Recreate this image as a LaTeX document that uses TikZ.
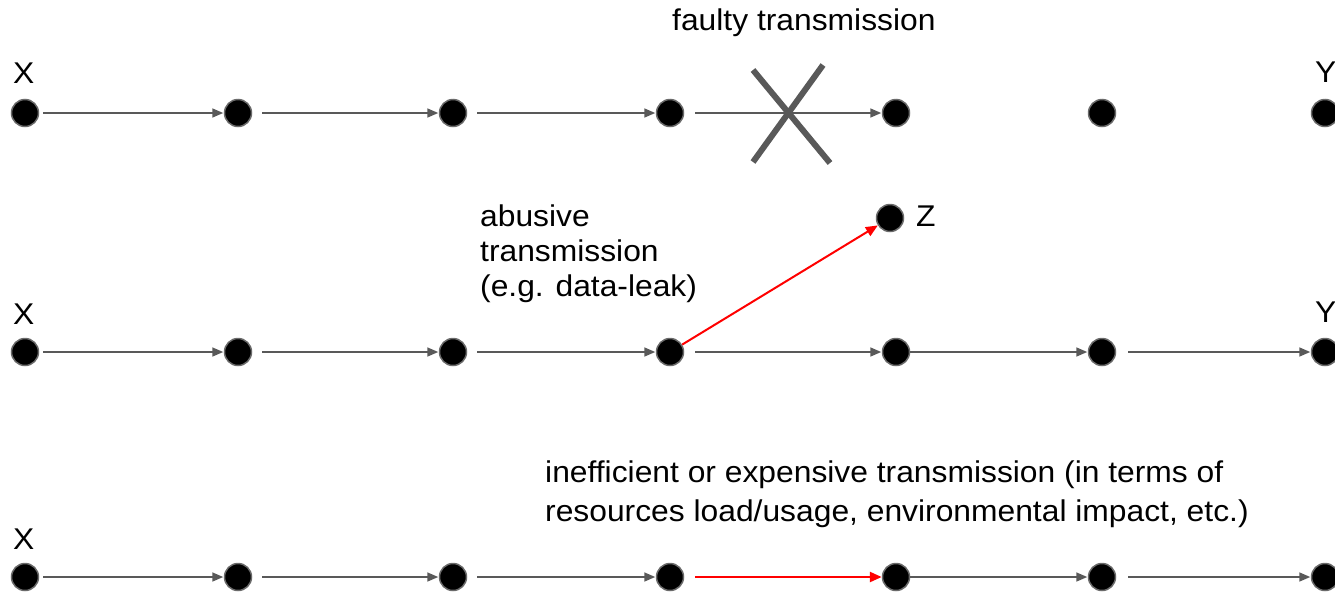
\documentclass[tikz,border=0pt]{standalone}
\usepackage{fontspec}
\setmainfont{Liberation Sans}[FakeStretch=1.06]
\usetikzlibrary{arrows.meta}
\definecolor{edgegray}{HTML}{595959}
\definecolor{rimgray}{HTML}{6A6A6A}
\definecolor{leakred}{HTML}{FF0000}
\tikzset{
  dot/.style={circle, fill=black, draw=rimgray, line width=1.5pt, minimum size=27pt, inner sep=0pt},
  flow/.style={draw=edgegray, line width=1.6pt, -{Triangle[length=11pt,width=9pt]}, shorten <=10pt, shorten >=0.5pt},
  badflow/.style={draw=leakred, line width=2pt, -{Triangle[length=12pt,width=10pt]}},
  lbl/.style={font=\fontsize{30}{35}\selectfont, inner sep=0pt, anchor=base west},
  cross/.style={draw=edgegray, line width=6pt}
}
\begin{document}
\begin{tikzpicture}[x=1pt,y=-1pt]
\useasboundingbox (0,0) rectangle (1335,592);
\foreach \i/\x in {1/25,2/238,3/453,4/670,5/896,6/1102,7/1325}{
  \node[dot] (a\i) at (\x,113) {};
  \node[dot] (b\i) at (\x,352) {};
  \node[dot] (c\i) at (\x,577) {};
}
\node[dot] (z) at (890,218) {};
% labels
\node[lbl] (fx) at (672,30) {faulty transmission};
\node[lbl] (xa) at (13,83) {X};
\node[lbl] (ya) at (1315,82) {Y};
\node[lbl] (xb) at (13,324) {X};
\node[lbl] (yb) at (1315,322) {Y};
\node[lbl] (xc) at (13,549) {X};
\node[lbl] (zl) at (916,226) {Z};
\node[font=\fontsize{30}{35}\selectfont, inner sep=0pt, anchor=north west, align=left] (ab) at (480,205) {abusive\\transmission\\(e.g. data-leak)};
\node[font=\fontsize{30}{39}\selectfont, inner sep=0pt, anchor=north west, align=left] (ineff) at (545,461) {inefficient or expensive transmission (in terms of\\resources load/usage, environmental impact, etc.)};
% row 1 edges
\draw[flow, shorten <=4pt] (a1) -- (a2);
\draw[flow] (a2) -- (a3);
\draw[flow] (a3) -- (a4);
\draw[flow, shorten <=11pt] (a4) -- (a5);
% cross
\coordinate (k1) at (753,70);
\coordinate (k2) at (830,163);
\coordinate (k3) at (823,65);
\coordinate (k4) at (753,162);
\draw[cross] (k1) -- (k2);
\draw[cross] (k3) -- (k4);
% row 2 edges
\draw[flow, shorten <=4pt] (b1) -- (b2);
\draw[flow] (b2) -- (b3);
\draw[flow] (b3) -- (b4);
\draw[flow, shorten <=11pt] (b4) -- (b5);
\draw[flow, shorten <=0pt] (b5) -- (b6);
\draw[flow, shorten <=12pt] (b6) -- (b7);
\draw[badflow] (b4) -- (z);
% row 3 edges
\draw[flow, shorten <=4pt] (c1) -- (c2);
\draw[flow] (c2) -- (c3);
\draw[flow] (c3) -- (c4);
\draw[badflow, shorten <=11pt, line width=2.5pt] (c4) -- (c5);
\draw[flow, shorten <=0pt] (c5) -- (c6);
\draw[flow, shorten <=12pt] (c6) -- (c7);
\end{tikzpicture}
\end{document}
